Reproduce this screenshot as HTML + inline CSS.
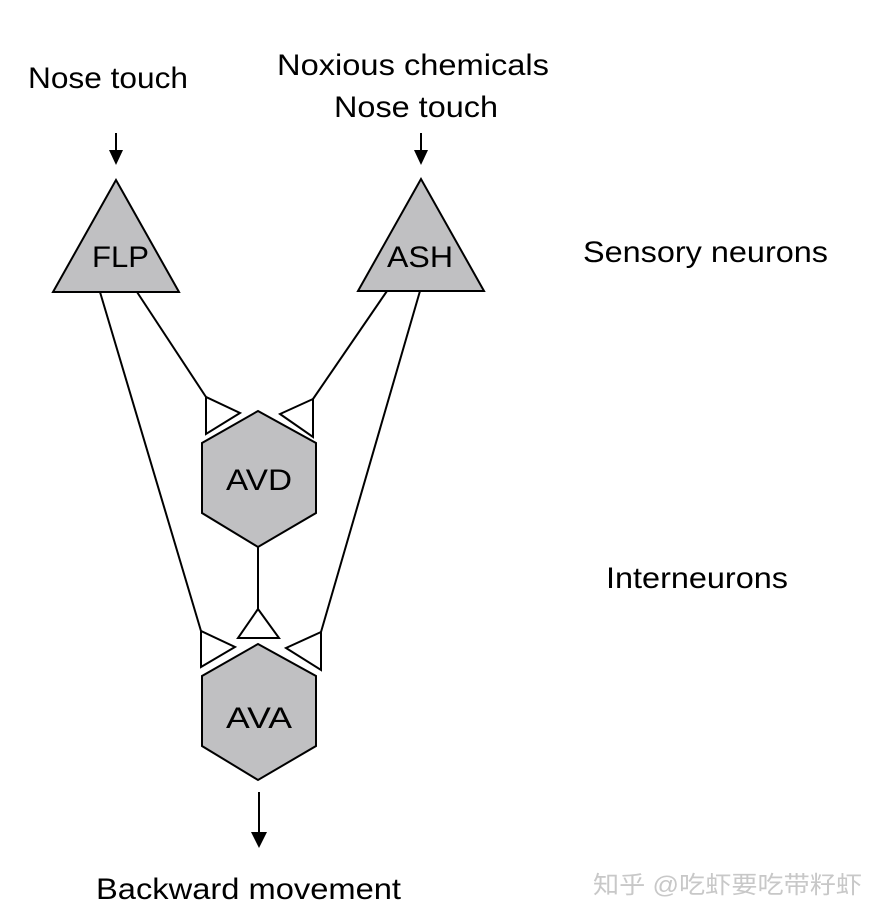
<!DOCTYPE html>
<html><head><meta charset="utf-8"><style>
html,body{margin:0;padding:0;background:#fff}
svg{display:block}
text{font-family:"Liberation Sans","Noto Sans CJK SC",sans-serif;fill:#000}
</style></head><body>
<svg width="885" height="922" viewBox="0 0 885 922" xmlns="http://www.w3.org/2000/svg">
<g stroke="#000" stroke-width="2" fill="none">
<!-- input arrows -->
<line x1="116" y1="133" x2="116" y2="152"/>
<line x1="421" y1="133" x2="421" y2="152"/>
<!-- connections -->
<line x1="137" y1="292" x2="206" y2="397"/>
<line x1="387" y1="291" x2="313" y2="399"/>
<line x1="100" y1="292" x2="201" y2="631"/>
<line x1="420" y1="291" x2="321" y2="632"/>
<line x1="258" y1="547" x2="258" y2="609"/>
<line x1="259" y1="792" x2="259" y2="834"/>
</g>
<g fill="#000">
<polygon points="109,150 123,150 116,165"/>
<polygon points="414,150 428,150 421,165"/>
<polygon points="251,832 267,832 259,848"/>
</g>
<g stroke="#000" stroke-width="2" fill="#c0c0c2" stroke-linejoin="miter">
<polygon points="116,180 53,292 179,292"/>
<polygon points="421,179 358,291 484,291"/>
<polygon points="258,411 316,443 316,513 258,547 202,513 202,443"/>
<polygon points="258,644 316,676 316,746 258,780 202,746 202,676"/>
</g>
<g stroke="#000" stroke-width="2" fill="#fff">
<polygon points="206,397 206,434 240,413"/>
<polygon points="313,399 313,437 280,414"/>
<polygon points="258,609 238,638 279,638"/>
<polygon points="201,631 201,667 235,647"/>
<polygon points="321,632 321,670 286,648"/>
</g>
<g font-size="30">
<text x="28" y="88" textLength="160" lengthAdjust="spacingAndGlyphs">Nose touch</text>
<text x="277" y="75" textLength="272" lengthAdjust="spacingAndGlyphs">Noxious chemicals</text>
<text x="334" y="117" textLength="164" lengthAdjust="spacingAndGlyphs">Nose touch</text>
<text x="583" y="262" textLength="245" lengthAdjust="spacingAndGlyphs">Sensory neurons</text>
<text x="606" y="588" textLength="182" lengthAdjust="spacingAndGlyphs">Interneurons</text>
<text x="96" y="899" textLength="305" lengthAdjust="spacingAndGlyphs">Backward movement</text>
<text x="92" y="267" textLength="57" lengthAdjust="spacingAndGlyphs">FLP</text>
<text x="387" y="267" textLength="66" lengthAdjust="spacingAndGlyphs">ASH</text>
<text x="226" y="490" textLength="66" lengthAdjust="spacingAndGlyphs">AVD</text>
<text x="226" y="728" textLength="66" lengthAdjust="spacingAndGlyphs">AVA</text>
</g>
<text x="593" y="893" font-size="24" style="fill:#c8c8c8" textLength="269" lengthAdjust="spacingAndGlyphs">知乎 @吃虾要吃带籽虾</text>
</svg>
</body></html>
